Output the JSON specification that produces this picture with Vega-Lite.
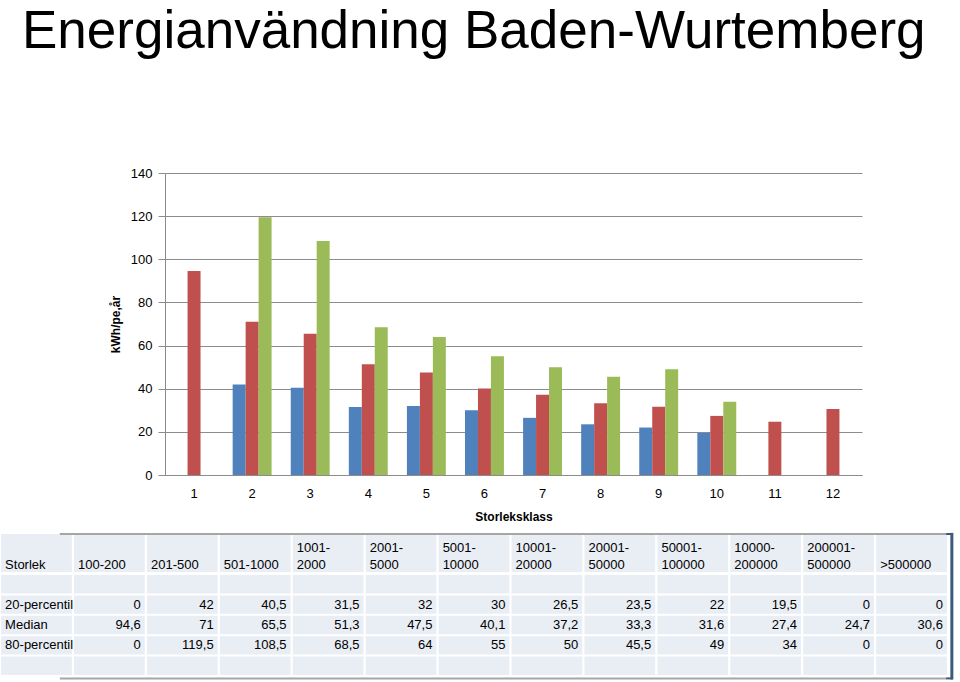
{
  "$schema": "https://vega.github.io/schema/vega-lite/v6.json",
  "width": 697,
  "height": 302,
  "autosize": {"type": "none"},
  "padding": {"left": 165, "top": 173, "right": 98, "bottom": 207},
  "title": {
    "text": "Energianvändning Baden-Wurtemberg",
    "anchor": "start",
    "frame": "group",
    "font": "Liberation Sans",
    "fontSize": 53,
    "fontWeight": "normal",
    "color": "#000000",
    "dx": -143,
    "offset": 108
  },
  "config": {
    "font": "Liberation Sans",
    "view": {"stroke": null},
    "locale": {"number": {"decimal": ",", "thousands": " ", "grouping": [3], "currency": ["", " kr"]}}
  },
  "datasets": {
    "varden": [
      {"klass": 1, "storlek": "100-200", "serie": "20-percentil", "v": 0},
      {"klass": 1, "storlek": "100-200", "serie": "Median", "v": 94.6},
      {"klass": 1, "storlek": "100-200", "serie": "80-percentil", "v": 0},
      {"klass": 2, "storlek": "201-500", "serie": "20-percentil", "v": 42},
      {"klass": 2, "storlek": "201-500", "serie": "Median", "v": 71},
      {"klass": 2, "storlek": "201-500", "serie": "80-percentil", "v": 119.5},
      {"klass": 3, "storlek": "501-1000", "serie": "20-percentil", "v": 40.5},
      {"klass": 3, "storlek": "501-1000", "serie": "Median", "v": 65.5},
      {"klass": 3, "storlek": "501-1000", "serie": "80-percentil", "v": 108.5},
      {"klass": 4, "storlek": "1001-2000", "serie": "20-percentil", "v": 31.5},
      {"klass": 4, "storlek": "1001-2000", "serie": "Median", "v": 51.3},
      {"klass": 4, "storlek": "1001-2000", "serie": "80-percentil", "v": 68.5},
      {"klass": 5, "storlek": "2001-5000", "serie": "20-percentil", "v": 32},
      {"klass": 5, "storlek": "2001-5000", "serie": "Median", "v": 47.5},
      {"klass": 5, "storlek": "2001-5000", "serie": "80-percentil", "v": 64},
      {"klass": 6, "storlek": "5001-10000", "serie": "20-percentil", "v": 30},
      {"klass": 6, "storlek": "5001-10000", "serie": "Median", "v": 40.1},
      {"klass": 6, "storlek": "5001-10000", "serie": "80-percentil", "v": 55},
      {"klass": 7, "storlek": "10001-20000", "serie": "20-percentil", "v": 26.5},
      {"klass": 7, "storlek": "10001-20000", "serie": "Median", "v": 37.2},
      {"klass": 7, "storlek": "10001-20000", "serie": "80-percentil", "v": 50},
      {"klass": 8, "storlek": "20001-50000", "serie": "20-percentil", "v": 23.5},
      {"klass": 8, "storlek": "20001-50000", "serie": "Median", "v": 33.3},
      {"klass": 8, "storlek": "20001-50000", "serie": "80-percentil", "v": 45.5},
      {"klass": 9, "storlek": "50001-100000", "serie": "20-percentil", "v": 22},
      {"klass": 9, "storlek": "50001-100000", "serie": "Median", "v": 31.6},
      {"klass": 9, "storlek": "50001-100000", "serie": "80-percentil", "v": 49},
      {"klass": 10, "storlek": "10000-200000", "serie": "20-percentil", "v": 19.5},
      {"klass": 10, "storlek": "10000-200000", "serie": "Median", "v": 27.4},
      {"klass": 10, "storlek": "10000-200000", "serie": "80-percentil", "v": 34},
      {"klass": 11, "storlek": "200001-500000", "serie": "20-percentil", "v": 0},
      {"klass": 11, "storlek": "200001-500000", "serie": "Median", "v": 24.7},
      {"klass": 11, "storlek": "200001-500000", "serie": "80-percentil", "v": 0},
      {"klass": 12, "storlek": ">500000", "serie": "20-percentil", "v": 0},
      {"klass": 12, "storlek": ">500000", "serie": "Median", "v": 30.6},
      {"klass": 12, "storlek": ">500000", "serie": "80-percentil", "v": 0}
    ],
    "kolumner": [
      {"kol": "Storlek", "rubrik1": "", "rubrik2": "Storlek", "rader": ["tom1", "20-percentil", "Median", "80-percentil", "tom2"]},
      {"kol": "100-200", "rubrik1": "", "rubrik2": "100-200", "rader": ["tom1", "20-percentil", "Median", "80-percentil", "tom2"]},
      {"kol": "201-500", "rubrik1": "", "rubrik2": "201-500", "rader": ["tom1", "20-percentil", "Median", "80-percentil", "tom2"]},
      {"kol": "501-1000", "rubrik1": "", "rubrik2": "501-1000", "rader": ["tom1", "20-percentil", "Median", "80-percentil", "tom2"]},
      {"kol": "1001-2000", "rubrik1": "1001-", "rubrik2": "2000", "rader": ["tom1", "20-percentil", "Median", "80-percentil", "tom2"]},
      {"kol": "2001-5000", "rubrik1": "2001-", "rubrik2": "5000", "rader": ["tom1", "20-percentil", "Median", "80-percentil", "tom2"]},
      {"kol": "5001-10000", "rubrik1": "5001-", "rubrik2": "10000", "rader": ["tom1", "20-percentil", "Median", "80-percentil", "tom2"]},
      {"kol": "10001-20000", "rubrik1": "10001-", "rubrik2": "20000", "rader": ["tom1", "20-percentil", "Median", "80-percentil", "tom2"]},
      {"kol": "20001-50000", "rubrik1": "20001-", "rubrik2": "50000", "rader": ["tom1", "20-percentil", "Median", "80-percentil", "tom2"]},
      {"kol": "50001-100000", "rubrik1": "50001-", "rubrik2": "100000", "rader": ["tom1", "20-percentil", "Median", "80-percentil", "tom2"]},
      {"kol": "10000-200000", "rubrik1": "10000-", "rubrik2": "200000", "rader": ["tom1", "20-percentil", "Median", "80-percentil", "tom2"]},
      {"kol": "200001-500000", "rubrik1": "200001-", "rubrik2": "500000", "rader": ["tom1", "20-percentil", "Median", "80-percentil", "tom2"]},
      {"kol": ">500000", "rubrik1": "", "rubrik2": ">500000", "rader": ["tom1", "20-percentil", "Median", "80-percentil", "tom2"]}
    ]
  },
  "layer": [
    {
      "data": {"name": "varden"},
      "mark": {"type": "bar"},
      "encoding": {
        "x": {
          "field": "klass",
          "type": "ordinal",
          "scale": {"paddingInner": 0.33, "paddingOuter": 0.165},
          "axis": {
            "labelAngle": 0,
            "ticks": false,
            "tickSize": 0,
            "domainColor": "#8c8c8c",
            "labelPadding": 12,
            "labelFontSize": 13,
            "labelColor": "#000000",
            "title": "Storleksklass",
            "titleFontSize": 12,
            "titleFontWeight": "bold",
            "titleColor": "#000000",
            "titlePadding": 11
          }
        },
        "xOffset": {
          "field": "serie",
          "type": "nominal",
          "scale": {"domain": ["20-percentil", "Median", "80-percentil"], "paddingInner": 0, "paddingOuter": 0}
        },
        "y": {
          "field": "v",
          "type": "quantitative",
          "scale": {"domain": [0, 140], "nice": false},
          "axis": {
            "values": [0, 20, 40, 60, 80, 100, 120, 140],
            "grid": true,
            "gridColor": "#8c8c8c",
            "domainColor": "#8c8c8c",
            "tickColor": "#8c8c8c",
            "tickSize": 7,
            "labelPadding": 6,
            "labelFontSize": 13,
            "labelColor": "#000000",
            "title": "kWh/pe,år",
            "titleFontSize": 12,
            "titleFontWeight": "bold",
            "titleColor": "#000000",
            "titlePadding": 8
          }
        },
        "color": {
          "field": "serie",
          "type": "nominal",
          "scale": {"domain": ["20-percentil", "Median", "80-percentil"], "range": ["#4F81BD", "#C0504D", "#9BBB59"]},
          "legend": null
        }
      }
    },
    {
      "layer": [
        {
          "data": {"name": "kolumner"},
          "encoding": {
            "x": {"field": "kol", "type": "nominal", "axis": null,
              "scale": {"domain": ["Storlek", "100-200", "201-500", "501-1000", "1001-2000", "2001-5000", "5001-10000", "10001-20000", "20001-50000", "50001-100000", "10000-200000", "200001-500000", ">500000"], "range": [-165, 783], "paddingInner": 0.03, "paddingOuter": 0.015}}
          },
          "layer": [
            {
              "mark": {"type": "rect", "fill": "#E9EDF4"},
              "encoding": {
                "y": {"datum": "rubrik", "type": "nominal", "axis": null,
                  "scale": {"domain": ["rubrik"], "range": [361, 399], "paddingInner": 0, "paddingOuter": 0}}
              }
            },
            {
              "mark": {"type": "text", "align": "left", "baseline": "bottom", "dx": 4, "dy": -17, "fontSize": 13, "color": "#000000"},
              "encoding": {
                "x": {"field": "kol", "type": "nominal", "axis": null, "bandPosition": 0},
                "y": {"datum": "rubrik", "type": "nominal", "axis": null, "bandPosition": 1},
                "text": {"field": "rubrik1", "type": "nominal"}
              }
            },
            {
              "mark": {"type": "text", "align": "left", "baseline": "bottom", "dx": 4, "fontSize": 13, "color": "#000000"},
              "encoding": {
                "x": {"field": "kol", "type": "nominal", "axis": null, "bandPosition": 0},
                "y": {"datum": "rubrik", "type": "nominal", "axis": null, "bandPosition": 1},
                "text": {"field": "rubrik2", "type": "nominal"}
              }
            },
            {
              "transform": [{"filter": "datum.kol == 'Storlek'"}],
              "mark": {"type": "rule", "color": "#A6A6A6", "strokeWidth": 2},
              "encoding": {
                "x": {"datum": "Storlek", "type": "nominal", "bandPosition": 0.83},
                "x2": {"datum": ">500000", "bandPosition": 1},
                "y": {"datum": "rubrik", "type": "nominal", "bandPosition": 0}
              }
            },
            {
              "transform": [{"filter": "datum.kol == 'Storlek'"}],
              "mark": {"type": "rule", "color": "#A6A6A6", "strokeWidth": 2},
              "encoding": {
                "x": {"datum": "Storlek", "type": "nominal", "bandPosition": 0.83},
                "x2": {"datum": ">500000", "bandPosition": 1},
                "y": {"datum": "rubrik", "type": "nominal", "bandPosition": 3.8}
              }
            },
            {
              "transform": [{"filter": "datum.kol == 'Storlek'"}],
              "mark": {"type": "rule", "color": "#3B5A80", "strokeWidth": 3},
              "encoding": {
                "x": {"datum": ">500000", "type": "nominal", "bandPosition": 1.07},
                "y": {"datum": "rubrik", "type": "nominal", "bandPosition": -0.03},
                "y2": {"datum": "rubrik", "bandPosition": 3.83}
              }
            },
            {
              "transform": [{"filter": "datum.kol == 'Storlek'"}],
              "mark": {"type": "rule", "color": "#3B5A80", "strokeWidth": 2},
              "encoding": {
                "x": {"datum": ">500000", "type": "nominal", "bandPosition": 0.99},
                "x2": {"datum": ">500000", "bandPosition": 1.08},
                "y": {"datum": "rubrik", "type": "nominal", "bandPosition": 0}
              }
            },
            {
              "transform": [{"filter": "datum.kol == 'Storlek'"}],
              "mark": {"type": "rule", "color": "#3B5A80", "strokeWidth": 2},
              "encoding": {
                "x": {"datum": ">500000", "type": "nominal", "bandPosition": 0.99},
                "x2": {"datum": ">500000", "bandPosition": 1.08},
                "y": {"datum": "rubrik", "type": "nominal", "bandPosition": 3.8}
              }
            }
          ]
        },
        {
          "layer": [
            {
              "data": {"name": "kolumner"},
              "transform": [{"flatten": ["rader"]}],
              "mark": {"type": "rect", "fill": "#E9EDF4"},
              "encoding": {
                "x": {"field": "kol", "type": "nominal", "axis": null,
                  "scale": {"domain": ["Storlek", "100-200", "201-500", "501-1000", "1001-2000", "2001-5000", "5001-10000", "10001-20000", "20001-50000", "50001-100000", "10000-200000", "200001-500000", ">500000"], "range": [-165, 783], "paddingInner": 0.03, "paddingOuter": 0.015}},
                "y": {"field": "rader", "type": "nominal", "axis": null,
                  "scale": {"domain": ["tom1", "20-percentil", "Median", "80-percentil", "tom2"], "range": [401, 503], "paddingInner": 0.1, "paddingOuter": 0.05}}
              }
            },
            {
              "data": {"name": "varden"},
              "mark": {"type": "text", "align": "right", "baseline": "middle", "dx": -4, "fontSize": 13, "color": "#000000"},
              "encoding": {
                "x": {"field": "storlek", "type": "nominal", "axis": null, "bandPosition": 1},
                "y": {"field": "serie", "type": "nominal", "axis": null},
                "text": {"field": "v", "type": "quantitative", "format": "~r"}
              }
            },
            {
              "data": {"name": "varden"},
              "transform": [{"filter": "datum.klass == 1"}],
              "mark": {"type": "text", "align": "left", "baseline": "middle", "dx": 4, "fontSize": 13, "color": "#000000"},
              "encoding": {
                "x": {"datum": "Storlek", "type": "nominal", "axis": null, "bandPosition": 0},
                "y": {"field": "serie", "type": "nominal", "axis": null},
                "text": {"field": "serie", "type": "nominal"}
              }
            }
          ]
        }
      ],
      "resolve": {"scale": {"y": "independent"}}
    }
  ],
  "resolve": {"scale": {"x": "independent", "y": "independent"}}
}
